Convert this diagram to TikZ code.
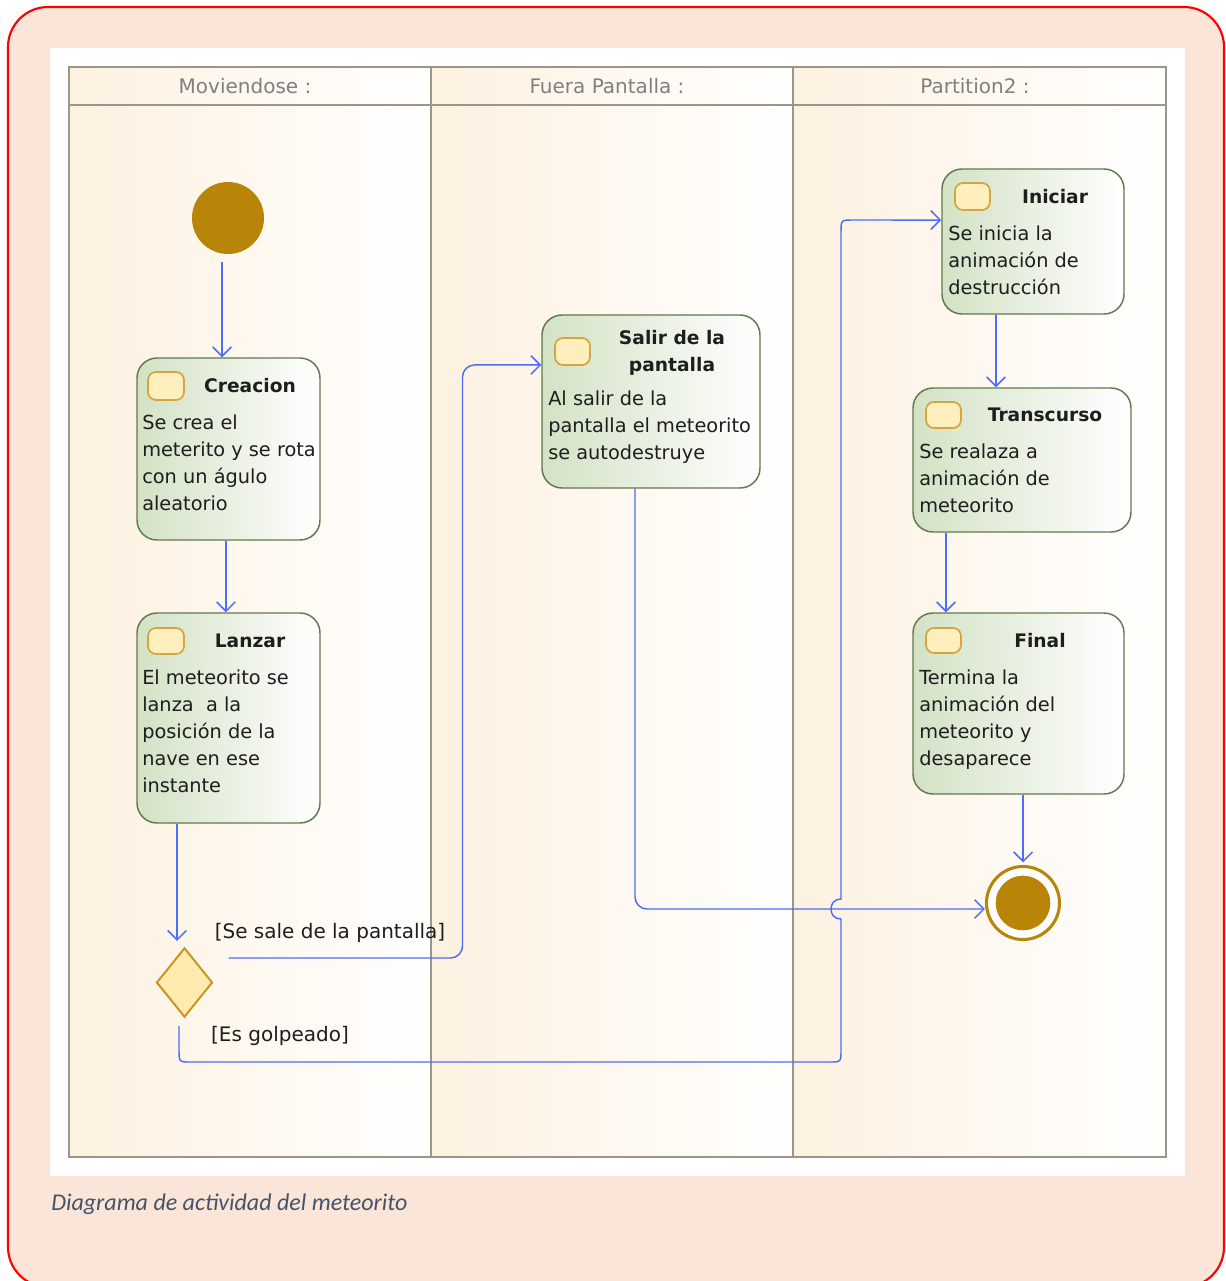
\documentclass[tikz,border=0pt]{standalone}
\usepackage{fontspec}
\setmainfont{DejaVu Sans}
\newfontfamily\capfont{Carlito}
\usetikzlibrary{shapes.geometric,arrows.meta,calc,fit}

\definecolor{pagebg}{RGB}{250,229,216}
\definecolor{framered}{RGB}{255,0,0}
\definecolor{lanetint}{RGB}{253,241,224}
\definecolor{laneline}{RGB}{156,150,138}
\definecolor{headtext}{RGB}{128,128,128}
\definecolor{gold}{RGB}{184,133,8}
\definecolor{boxline}{RGB}{98,120,80}
\definecolor{boxtint}{RGB}{211,226,197}
\definecolor{iconfill}{RGB}{255,238,190}
\definecolor{iconline}{RGB}{214,166,60}
\definecolor{diafill}{RGB}{255,235,176}
\definecolor{dialine}{RGB}{200,150,30}
\definecolor{flowblue}{RGB}{77,108,250}
\definecolor{captext}{RGB}{68,84,106}
\definecolor{ink}{RGB}{30,30,30}

\tikzset{
  lane/.style={left color=lanetint, right color=white, draw=none, inner sep=0pt},
  actbox/.style={draw=boxline, line width=1.1pt, rounded corners=15pt,
    left color=boxtint, right color=white, inner sep=0pt},
  icon/.style={draw=iconline, fill=iconfill, line width=1.3pt,
    rounded corners=6pt, inner sep=0pt},
  title/.style={font=\fontsize{14pt}{20.25pt}\selectfont\bfseries, text=ink,
    inner sep=0pt, align=center},
  body/.style={font=\fontsize{14.5pt}{20.25pt}\selectfont, text=ink,
    inner sep=0pt, align=left, anchor=north west},
  lanehead/.style={font=\fontsize{15pt}{18pt}\selectfont, text=headtext, inner sep=0pt},
  guard/.style={font=\fontsize{15pt}{18pt}\selectfont, text=ink, inner sep=0pt},
  flow/.style={draw=flowblue, line width=1.1pt,
    -{Straight Barb[length=7pt,width=14pt,line width=1.1pt]}},
}

\begin{document}
\begin{tikzpicture}[x=0.75pt,y=-0.75pt]
\useasboundingbox (0,0) rectangle (1226,1281);

% page background with red rounded border
\draw[framered, fill=pagebg, line width=1.6pt, rounded corners=30pt] (8,7) rectangle (1224,1287);
\fill[white] (50,48) rectangle (1185,1176);

% swimlanes
\node[lane, fit={(69,67) (431,1157)}] (laneA) {};
\node[lane, fit={(431,67) (793,1157)}] (laneB) {};
\node[lane, fit={(793,67) (1166,1157)}] (laneC) {};
\draw[laneline, line width=1.5pt] (69,67) rectangle (1166,1157);
\draw[laneline, line width=1.5pt] (69,105) -- (1166,105);
\draw[laneline, line width=1.5pt] (431,67) -- (431,1157);
\draw[laneline, line width=1.5pt] (793,67) -- (793,1157);
\node[lanehead] (headA) at (245,86) {Moviendose :};
\node[lanehead] (headB) at (607,86) {Fuera Pantalla :};
\node[lanehead] (headC) at (975,86) {Partition2 :};

% initial and final nodes
\node[circle, fill=gold, minimum size=54pt, inner sep=0pt] (ini) at (228,218) {};
\node[circle, draw=gold, line width=2.3pt, fill=white, minimum size=54.75pt, inner sep=0pt] (fin) at (1023,903) {};
\node[circle, fill=gold, minimum size=41pt, inner sep=0pt] (fincore) at (1023,903) {};

% decision
\node[diamond, draw=dialine, fill=diafill, line width=1.5pt, minimum width=42pt,
      minimum height=52pt, inner sep=0pt] (dec) at (184.5,982.5) {};

% Creacion
\node[actbox, fit={(137,358) (320,540)}] (creacion) {};
\node[icon, fit={(148,372) (184,400)}] (icoCreacion) {};
\node[title] (tCreacion) at (250,386) {Creacion};
\node[body] (bCreacion) at (142,415) {Se crea el\\meterito y se rota\\con un águlo\\aleatorio};

% Lanzar
\node[actbox, fit={(137,613) (320,823)}] (lanzar) {};
\node[icon, fit={(148,628) (184,654)}] (icoLanzar) {};
\node[title] (tLanzar) at (250,641) {Lanzar};
\node[body] (bLanzar) at (142,670) {El meteorito se\\lanza~~a la\\posición de la\\nave en ese\\instante};

% Salir de la pantalla
\node[actbox, fit={(542,315) (760,488)}] (salir) {};
\node[icon, fit={(555,338) (590,365)}] (icoSalir) {};
\node[title] (tSalir) at (672,352.5) {Salir de la\\pantalla};
\node[body] (bSalir) at (548,391) {Al salir de la\\pantalla el meteorito\\se autodestruye};

% Iniciar
\node[actbox, fit={(942,169) (1124,314)}] (iniciar) {};
\node[icon, fit={(955,183) (990,210)}] (icoIniciar) {};
\node[title] (tIniciar) at (1055,197) {Iniciar};
\node[body] (bIniciar) at (948,226) {Se inicia la\\animación de\\destrucción};

% Transcurso
\node[actbox, fit={(913,388) (1131,532)}] (trans) {};
\node[icon, fit={(926,402) (961,428)}] (icoTrans) {};
\node[title] (tTrans) at (1045,415) {Transcurso};
\node[body] (bTrans) at (919,444) {Se realaza a\\animación de\\meteorito};

% Final
\node[actbox, fit={(913,613) (1124,794)}] (finalbox) {};
\node[icon, fit={(926,628) (961,653)}] (icoFinal) {};
\node[title] (tFinal) at (1040,641) {Final};
\node[body] (bFinal) at (919,670) {Termina la\\animación del\\meteorito y\\desaparece};

% control flows
\draw[flow] ([xshift=-4.5pt,yshift=-6pt]ini.south) -- ([xshift=-4.5pt]ini.south |- creacion.north);
\draw[flow] ([xshift=-1.9pt]creacion.south) -- ([xshift=-1.9pt]lanzar.north);
\draw[flow, shorten >=4.5pt] ([xshift=-38.6pt]lanzar.south) -- ([xshift=-38.6pt]lanzar.south |- dec.north);
\draw[flow, rounded corners=9pt] ($(dec.east)+(15,-24.5)$) -- ++(234,0) |- ([yshift=27.4pt]salir.west);
% the hit branch hops over the crossing flow with a small jump
\draw[flow] ($(dec.south)+(-5.5,8)$) -- (179,1050) .. controls (179,1062) .. (191,1062)
  -- (829,1062) .. controls (841,1062) .. (841,1050)
  -- (841,919) .. controls (834,919) and (831,914) .. (831,909)
  .. controls (831,904) and (834,899) .. (841,899)
  -- (841,232) .. controls (841,220) .. (853,220) -- ([yshift=16.1pt]iniciar.west);
\draw[flow, rounded corners=9pt] ([xshift=-12pt]salir.south) |- ([yshift=-4.5pt]fin.west);
\draw[flow] ([xshift=-27.75pt]iniciar.south) -- ([xshift=-27.75pt]iniciar.south |- trans.north);
\draw[flow] ([xshift=-57pt]trans.south) -- ([xshift=-57pt]trans.south |- finalbox.north);
\draw[flow, shorten >=2pt] (fin.north |- finalbox.south) -- (fin.north);

% guards
\node[guard] (gYes) at (330,933) {[Se sale de la pantalla]};
\node[guard] (gNo) at (280,1036) {[Es golpeado]};

% caption
\node[anchor=base west, font=\capfont\itshape\fontsize{18pt}{21pt}\selectfont, text=captext,
      inner sep=0pt] (caption) at (51,1210) {Diagrama de actividad del meteorito};
\end{tikzpicture}
\end{document}
